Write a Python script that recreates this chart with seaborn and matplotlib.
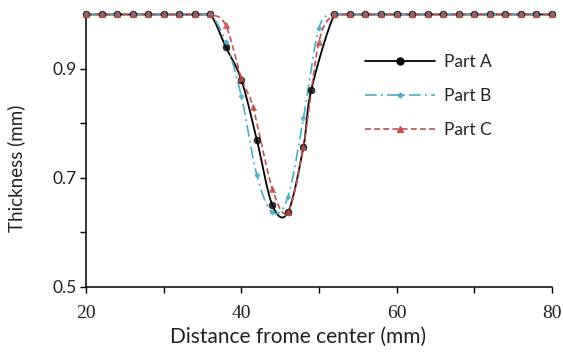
import numpy as np
import pandas as pd
import matplotlib
matplotlib.use("Agg")
import matplotlib.pyplot as plt
from matplotlib.lines import Line2D
from matplotlib.ticker import MultipleLocator, FuncFormatter
import seaborn as sns

# ---- data ----
flat_left = [20, 22, 24, 26, 28, 30, 32, 34, 36]
flat_right = [52, 54, 56, 58, 60, 62, 64, 66, 68, 70, 72, 74, 76, 78, 80]

xA = flat_left + [38, 40, 42, 44, 46, 48, 49] + flat_right
yA = [1.0] * 9 + [0.94, 0.88, 0.77, 0.65, 0.637, 0.757, 0.861] + [1.0] * 15

xB = flat_left + [38, 40, 42, 44, 46, 48, 50] + flat_right
yB = [1.0] * 9 + [0.95, 0.85, 0.705, 0.637, 0.665, 0.81, 0.975] + [1.0] * 15

xC = flat_left + [38, 40, 41.5, 44, 46, 48, 50] + flat_right
yC = [1.0] * 9 + [0.98, 0.883, 0.83, 0.68, 0.638, 0.757, 0.95] + [1.0] * 15

labels = ["Part A", "Part B", "Part C"]
colors = ["#000000", "#4BACC6", "#C0504D"]


def smooth(x, y, n=24):
    """Excel-like smoothed line (Catmull-Rom / Bezier) through the data points."""
    p = np.column_stack([x, y]).astype(float)
    pts = []
    for i in range(len(p) - 1):
        p0 = p[i - 1] if i > 0 else p[i]
        p1, p2 = p[i], p[i + 1]
        p3 = p[i + 2] if i + 2 < len(p) else p[i + 1]
        c1 = p1 + (p2 - p0) / 6.0
        c2 = p2 - (p3 - p1) / 6.0
        t = np.linspace(0, 1, n, endpoint=(i == len(p) - 2))[:, None]
        b = ((1 - t) ** 3) * p1 + 3 * ((1 - t) ** 2) * t * c1 + 3 * (1 - t) * t ** 2 * c2 + t ** 3 * p2
        pts.append(b)
    pts = np.vstack(pts)
    return pts[:, 0], np.minimum(pts[:, 1], max(y))


sns.set_style("ticks")
plt.rcParams["font.family"] = ["Lato", "DejaVu Sans"]

fig, ax = plt.subplots(figsize=(5.63, 3.53), dpi=100)
fig.subplots_adjust(left=0.153, right=0.980, top=0.959, bottom=0.187)

series = [(xA, yA), (xB, yB), (xC, yC)]
styles = [dict(ls="-", lw=1.3), dict(ls=(0, (7, 2.5, 1.2, 2.5)), lw=1.2), dict(ls=(0, (3.5, 2)), lw=1.2)]
markers = [dict(marker="o", s=24), dict(marker="D", s=7), dict(marker="^", s=20)]

for (x, y), lab, col, st in zip(series, labels, colors, styles):
    sx, sy = smooth(x, y)
    df = pd.DataFrame({"x": sx, "y": sy})
    sns.lineplot(data=df, x="x", y="y", ax=ax, color=col, linestyle=st["ls"],
                 linewidth=st["lw"], sort=False, estimator=None, clip_on=False, zorder=3)

for (x, y), lab, col, mk in zip(series, labels, colors, markers):
    df = pd.DataFrame({"x": x, "y": y})
    sns.scatterplot(data=df, x="x", y="y", ax=ax, color=col, marker=mk["marker"],
                    s=mk["s"], edgecolor=col, linewidth=0.5, clip_on=False, zorder=4,
                    alpha=0.85 if col != "#000000" else 0.8)

ax.set_xlim(20, 80)
ax.set_ylim(0.5, 1.0)
ax.xaxis.set_major_locator(MultipleLocator(10))
ax.set_yticks([0.5, 0.6, 0.7, 0.8, 0.9])
ax.xaxis.set_major_formatter(FuncFormatter(lambda v, p: f"{v:.0f}" if int(round(v)) % 20 == 0 else ""))
ax.yaxis.set_major_formatter(FuncFormatter(lambda v, p: f"{v:.1f}" if int(round(v * 10)) % 2 == 1 else ""))

for sp in ["top", "right"]:
    ax.spines[sp].set_visible(False)
for sp in ["left", "bottom"]:
    ax.spines[sp].set_color("black")
    ax.spines[sp].set_linewidth(1.1)

ax.tick_params(axis="both", direction="out", length=4, width=1.0, color="black", labelcolor="#222222")
ax.tick_params(axis="y", labelsize=12.5, pad=3)
ax.tick_params(axis="x", labelsize=14, pad=9)
for t in ax.get_xticklabels():
    t.set_family(["Liberation Serif", "DejaVu Serif"])
for t in ax.get_yticklabels():
    t.set_family(["Lato", "DejaVu Sans"])

ax.set_xlabel("Distance frome center (mm)", fontsize=15, color="#222222")
ax.set_ylabel("Thickness (mm)", fontsize=13.5, color="#222222")
ax.xaxis.set_label_coords(0.455, -0.148)
ax.yaxis.set_label_coords(-0.131, 0.437)

handles = [
    Line2D([], [], color=colors[0], ls="-", lw=1.3, marker="o", markersize=5),
    Line2D([], [], color=colors[1], ls=(0, (7, 2.5, 1.2, 2.5)), lw=1.2, marker="D", markersize=2.5),
    Line2D([], [], color=colors[2], ls=(0, (3.5, 2)), lw=1.2, marker="^", markersize=4),
]
ax.legend(handles, labels, loc="upper left", bbox_to_anchor=(0.60, 0.855), frameon=False,
          fontsize=12.5, handlelength=4.0, handletextpad=0.5, labelspacing=1.05,
          borderpad=0, borderaxespad=0, labelcolor="#222222")

fig.savefig("out.png", dpi=100)
